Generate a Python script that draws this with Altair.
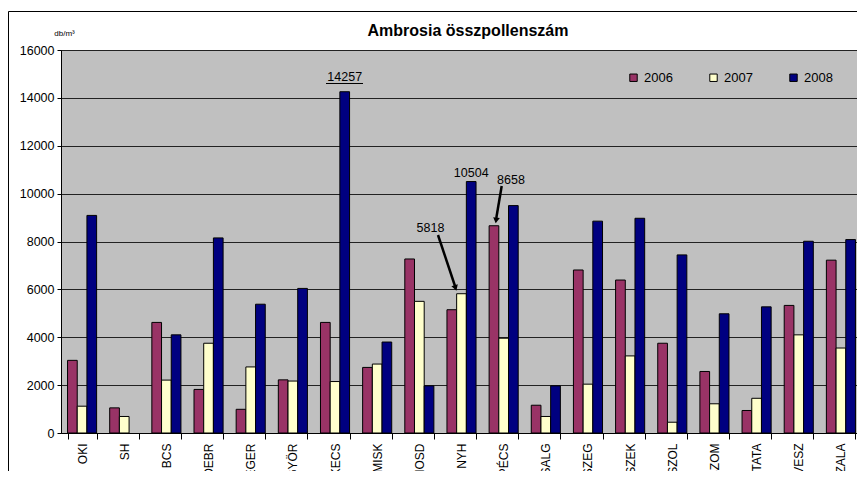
import altair as alt
import pandas as pd

cats = ["OKI", "SH", "BCS", "DEBR", "EGER", "GYÖR", "KECS", "MISK", "MOSD", "NYH",
        "PÉCS", "SALG", "SZEG", "SZEK", "SZOL", "SZOM", "TATA", "VESZ", "ZALA"]
years = ["2006", "2007", "2008"]
v2006 = [3035, 1050, 4620, 1820, 990, 2220, 4620, 2740, 7270, 5150,
         8658, 1160, 6810, 6390, 3750, 2570, 940, 5330, 7220]
v2007 = [1120, 690, 2210, 3750, 2760, 2170, 2150, 2880, 5500, 5818,
         3960, 690, 2040, 3220, 450, 1220, 1450, 4100, 3550]
v2008 = [9090, None, 4100, 8150, 5380, 6040, 14257, 3800, 1970, 10504,
         9500, 1970, 8850, 8970, 7440, 4980, 5270, 8010, 8080]
colors = ["#993366", "#FFFFCC", "#000080"]
title_text = "Ambrosia összpollenszám"

rows = []
for yr, vals in zip(years, [v2006, v2007, v2008]):
    for c, v in zip(cats, vals):
        rows.append({"cat": c, "year": yr, "val": v})
df = pd.DataFrame(rows)

FONT = "Liberation Sans"

x_enc = alt.X("cat:N", sort=cats,
              scale=alt.Scale(paddingInner=0.31, paddingOuter=0.155),
              axis=alt.Axis(title=None, labelAngle=-90, tickBand="extent",
                            labelFont=FONT, labelFontSize=12, labelColor="black",
                            domainColor="black", tickColor="black", tickSize=6,
                            labelPadding=4, grid=False))
xo_enc = alt.XOffset("year:N", sort=years,
                     scale=alt.Scale(paddingInner=0, paddingOuter=0))
y_enc = alt.Y("val:Q", scale=alt.Scale(domain=[0, 16000], nice=False),
              axis=alt.Axis(values=list(range(0, 16001, 2000)), format="d",
                            title="db/m³", titleAngle=0, titleX=3, titleY=-17,
                            titleAlign="center", titleBaseline="middle",
                            titleFont=FONT, titleFontSize=8, titleFontWeight="normal",
                            titleColor="black",
                            labelFont=FONT, labelFontSize=12.5, labelColor="black",
                            domainColor="black", tickColor="black", tickSize=4,
                            labelPadding=3, gridColor="#222", gridOpacity=1))

base = alt.Chart(df)

bars = base.mark_bar(stroke="black", strokeWidth=1).encode(
    x=x_enc, xOffset=xo_enc, y=y_enc,
    color=alt.Color("year:N", sort=years,
                    scale=alt.Scale(domain=years, range=colors),
                    legend=alt.Legend(title=None, orient="none", legendX=566, legendY=21,
                                      direction="horizontal", symbolType="square",
                                      symbolSize=55, symbolStrokeColor="black",
                                      symbolStrokeWidth=1, labelFont=FONT,
                                      labelFontSize=13, labelColor="black",
                                      labelOffset=4, columnPadding=34)),
)

def label(cat, yr, dx, dy, baseline="alphabetic"):
    return base.transform_filter(
        (alt.datum.cat == cat) & (alt.datum.year == yr)
    ).mark_text(font=FONT, fontSize=12.5, color="black", dx=dx, dy=dy,
                baseline=baseline).encode(
        x=x_enc, xOffset=xo_enc, y=y_enc, text=alt.Text("val:Q", format="d"))

lab1 = label("KECS", "2008", 0, -11)
lab2 = label("NYH", "2008", 0, -5)
lab3 = label("NYH", "2007", -31, -66, "middle")
lab4 = label("PÉCS", "2006", 17, -46, "middle")

one = alt.Chart(pd.DataFrame({"a": [0]}))
frame = one.mark_rect(fill="transparent", stroke="black", strokeWidth=1).encode(
    x=alt.value(-52.5), x2=alt.value(900), y=alt.value(-38.5), y2=alt.value(600))
title = one.mark_text(font=FONT, fontSize=16, fontWeight="bold", color="black",
                      align="center", baseline="alphabetic").encode(
    x=alt.value(407), y=alt.value(-14), text=alt.value(title_text))
underline = one.mark_rule(color="black", strokeWidth=1).encode(
    x=alt.value(265), x2=alt.value(302), y=alt.value(33.5))
arrow1 = one.mark_rule(color="black", strokeWidth=2.5).encode(
    x=alt.value(377), y=alt.value(185), x2=alt.value(394), y2=alt.value(236))
head1 = one.mark_point(shape="triangle-down", filled=True, color="black",
                       size=45, angle=341.5, opacity=1).encode(
    x=alt.value(394.5), y=alt.value(238))
arrow2 = one.mark_rule(color="black", strokeWidth=2.5).encode(
    x=alt.value(440.7), y=alt.value(136), x2=alt.value(435.3), y2=alt.value(168))
head2 = one.mark_point(shape="triangle-down", filled=True, color="black",
                       size=45, angle=8.3, opacity=1).encode(
    x=alt.value(435.1), y=alt.value(170.5))

chart = alt.layer(
    frame, bars, lab1, lab2, lab3, lab4, underline, arrow1, head1,
    arrow2, head2, title
).properties(
    width=801, height=383,
    padding={"left": 53, "top": 42, "right": -5, "bottom": 38},
    autosize=alt.AutoSizeParams(type="none"),
).configure_view(
    fill="#C0C0C0", stroke="#333", strokeWidth=1
)

chart.save("out.html", embed_options={"renderer": "svg", "actions": False})
